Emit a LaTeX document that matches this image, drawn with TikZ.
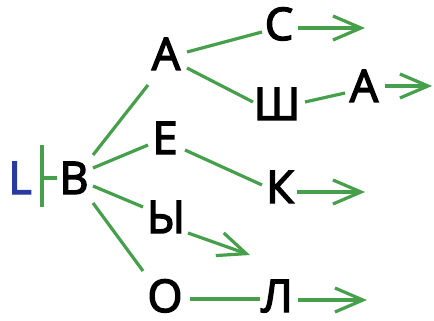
\documentclass[tikz,border=0pt]{standalone}
\usepackage{fontspec}
\setmainfont{Open Sans}
\newfontfamily\letfont{Open Sans}[FakeBold=3.2]
\usetikzlibrary{arrows.meta}
\definecolor{lgreen}{RGB}{70,160,75}
\definecolor{lblue}{RGB}{40,60,160}
\begin{document}
\begin{tikzpicture}[x=1pt,y=-1pt,
  let/.style={inner sep=0pt,font=\fontsize{45}{45}\letfont,text height=32pt,text depth=0pt,anchor=center},
  link/.style={draw=lgreen,line width=3.2pt},
  arr/.style={link,-{Straight Barb[length=28pt,width=24pt,line width=3.2pt]}}]
\useasboundingbox (0,0) rectangle (434,321);
\node[let,text=lblue] (L) at (20,178) {L};
\node[let] (B) at (74,178) {В};
\node[let] (A1) at (166,54) {А};
\node[let] (S) at (279,24) {С};
\node[let] (Sh) at (277,104) {Ш};
\node[let] (A2) at (364,86) {А};
\node[let] (E) at (165,138) {Е};
\node[let] (K) at (280,187) {К};
\node[let] (Y) at (166,217) {Ы};
\node[let] (O) at (165,296) {О};
\node[let] (Lo) at (277,296) {Л};
\coordinate (eS) at (365,28);
\coordinate (eA2) at (432,86);
\coordinate (eK) at (365,192);
\coordinate (eY) at (250,255);
\coordinate (eL) at (367,300);
% bar
\draw[link] ([shift={(22,-33)}]L.center) -- ([shift={(22,29)}]L.center);
\draw[link] ([shift={(22,0)}]L.center) -- ([shift={(-17,0)}]B.center);
% from B
\draw[link] ([shift={(19,-23)}]B.center) -- ([shift={(-18,31)}]A1.center);
\draw[link] ([shift={(19,-10)}]B.center) -- ([shift={(-17,7)}]E.center);
\draw[link] ([shift={(19,8)}]B.center) -- ([shift={(-23,-10)}]Y.center);
\draw[link] ([shift={(19,25)}]B.center) -- ([shift={(-22,-25)}]O.center);
% from A
\draw[link] ([shift={(21,-2)}]A1.center) -- ([shift={(-17,8)}]S.center);
\draw[link] ([shift={(21,14)}]A1.center) -- ([shift={(-24,-2)}]Sh.center);
\draw[link] ([shift={(28,-2)}]Sh.center) -- ([shift={(-19,7)}]A2.center);
\draw[link] ([shift={(20,12)}]E.center) -- ([shift={(-18,-2)}]K.center);
\draw[link] ([shift={(25,3)}]O.center) -- ([shift={(-17,3)}]Lo.center);
% arrows
\draw[arr] ([shift={(19,4)}]S.center) -- (eS);
\draw[arr] ([shift={(21,0)}]A2.center) -- (eA2);
\draw[arr] ([shift={(17,5)}]K.center) -- (eK);
\draw[arr] ([shift={(22,16)}]Y.center) -- (eY);
\draw[arr] ([shift={(21,4)}]Lo.center) -- (eL);
\end{tikzpicture}
\end{document}
